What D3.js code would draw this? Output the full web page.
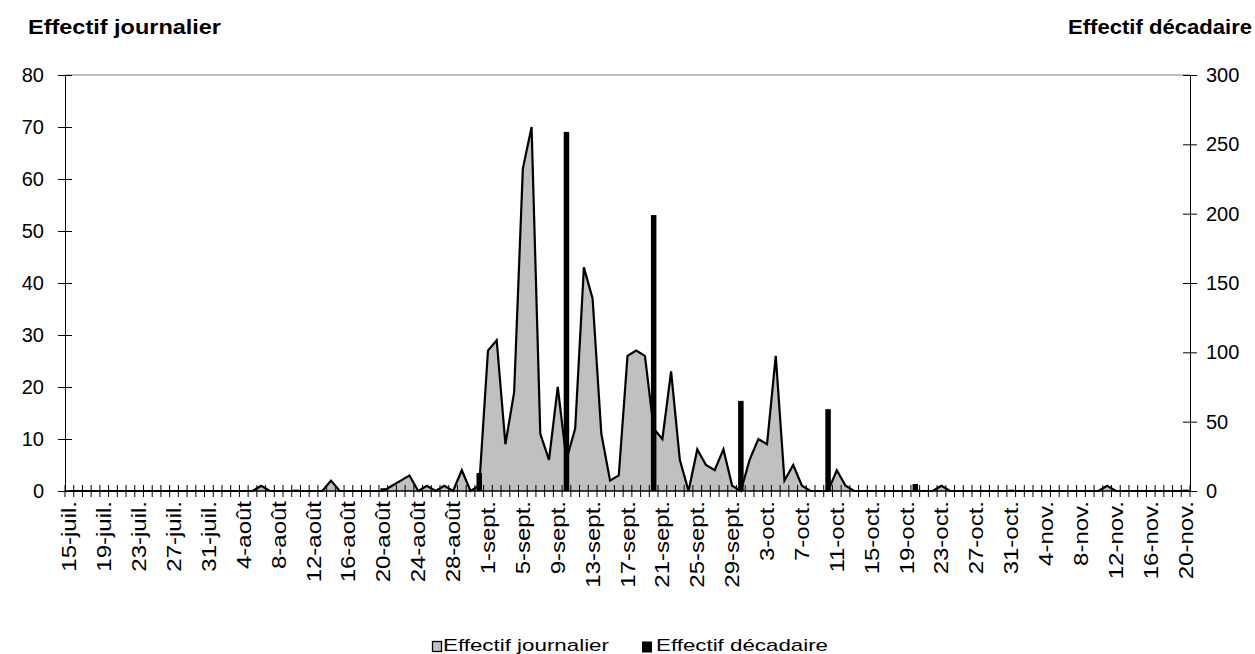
<!DOCTYPE html>
<html>
<head>
<meta charset="utf-8">
<script src="https://cdn.jsdelivr.net/npm/d3@7"></script>
<style>
  body { margin: 0; background: #fff; }
  svg text { font-family: "Liberation Sans", Arial, sans-serif; fill: #000; }
</style>
</head>
<body>
<svg id="chart" width="1255" height="654"></svg>
<script>
// mois en abrégé, comme sur l'axe
const monthNames = ['janv.', 'févr.', 'mars', 'avr.', 'mai', 'juin', 'juil.', 'août', 'sept.', 'oct.', 'nov.', 'déc.'];
// période : du 15 juillet au 20 novembre
const startDay = new Date(2000, 6, 15);
const endDay = new Date(2000, 10, 21);

// effectif journalier, mois par mois
const dailyJuly = [0,0,0,0,0,0,0,0,0,0,0,0,0,0,0,0,0]; // 15 -> 31
const dailyAugust = [0,0,0,0,0,1,0,0,0,0, 0,0,0,2,0,0,0,0,0,0, 1,2,3,0,1,0,1,0,4,0,1];
const dailySeptember = [27,29,9,19,62,70,11,6,20,6, 12,43,37,11,2,3,26,27,26,12, 10,23,6,0,8,5,4,8,1,0];
const dailyOctober = [6,10,9,26,2,5,1,0,0,0, 4,1,0,0,0,0,0,0,0,0, 0,0,1,0,0,0,0,0,0,0,0];
const dailyNovember = [0,0,0,0,0,0,0,0,0,0, 1,0,0,0,0,0,0,0,0,0]; // 1 -> 20

// effectif décadaire (posé sur le dernier jour de la décade)
const decadeLabels = ['20-juil.', '31-juil.', '10-août', '20-août', '31-août', '10-sept.', '20-sept.', '30-sept.', '10-oct.', '20-oct.', '31-oct.', '10-nov.', '20-nov.'];
const decadeValues = [0, 0, 1, 2, 13, 259, 199, 65, 59, 5, 1, 0, 1];

const leftTicks = [0, 10, 20, 30, 40, 50, 60, 70, 80];
const rightTicks = [0, 50, 100, 150, 200, 250, 300];

let fmtDay = d => d.getDate() + '-' + monthNames[d.getMonth()];
let days = d3.timeDay.range(startDay, endDay).map(fmtDay);
let daily = [].concat(dailyJuly, dailyAugust, dailySeptember, dailyOctober, dailyNovember);
let dailyData = days.map((d, i) => ({ day: d, value: daily[i] }));
let decadeData = decadeLabels.map((d, i) => ({ day: d, value: decadeValues[i] }));

let plotLeft = 65, plotRight = 1190, plotTop = 75, plotBottom = 491;
let svg = d3.select('#chart');

let x = d3.scaleBand().domain(days).range([plotLeft, plotRight]).padding(0);
let y = d3.scaleLinear().domain([0, 80]).range([plotBottom, plotTop]);
let y2 = d3.scaleLinear().domain([0, 300]).range([plotBottom, plotTop]);
let cx = d => x(d) + x.bandwidth() / 2;

// bord haut de la zone de tracé
svg.append('line')
    .attr('x1', plotLeft).attr('x2', plotRight)
    .attr('y1', plotTop).attr('y2', plotTop)
    .attr('stroke', '#808080').attr('stroke-width', 1);

// aire journalière
let area = d3.area()
    .x(d => cx(d.day))
    .y0(y(0))
    .y1(d => y(d.value));
let line = d3.line()
    .x(d => cx(d.day))
    .y(d => y(d.value));
svg.append('path')
    .attr('d', area(dailyData))
    .attr('fill', '#c0c0c0');
svg.append('path')
    .attr('d', line(dailyData))
    .attr('fill', 'none')
    .attr('stroke', '#000')
    .attr('stroke-width', 2.2)
    .attr('stroke-linejoin', 'miter');

// barres décadaires
let barW = 5.5;
svg.selectAll('.decade')
    .data(decadeData)
    .enter().append('rect')
    .attr('class', 'decade')
    .attr('x', d => cx(d.day) - barW / 2)
    .attr('width', barW)
    .attr('y', d => y2(d.value))
    .attr('height', d => y2(0) - y2(d.value))
    .attr('fill', '#000');

// axe gauche
let gLeft = svg.append('g')
    .attr('transform', `translate(${plotLeft},0)`)
    .call(d3.axisLeft(y).tickValues(leftTicks).tickSize(7).tickPadding(14));
gLeft.selectAll('.tick line').attr('x1', 7).attr('stroke', '#000');
gLeft.select('.domain').attr('stroke', '#000');
gLeft.selectAll('.tick text').attr('font-size', 20).style('font-family', '"Liberation Sans", Arial, sans-serif');

// axe droit
let gRight = svg.append('g')
    .attr('transform', `translate(${plotRight},0)`)
    .call(d3.axisRight(y2).tickValues(rightTicks).tickSize(7).tickPadding(9));
gRight.selectAll('.tick line').attr('x1', -7).attr('stroke', '#000');
gRight.select('.domain').attr('stroke', '#000');
gRight.selectAll('.tick text').attr('font-size', 20).style('font-family', '"Liberation Sans", Arial, sans-serif');

// axe des dates : graduations entre les jours
svg.append('line')
    .attr('x1', plotLeft).attr('x2', plotRight)
    .attr('y1', plotBottom).attr('y2', plotBottom)
    .attr('stroke', '#000').attr('stroke-width', 1.6);
let bounds = days.map(d => x(d)).concat([plotRight]);
svg.selectAll('.xtick')
    .data(bounds)
    .enter().append('line')
    .attr('class', 'xtick')
    .attr('x1', d => d).attr('x2', d => d)
    .attr('y1', plotBottom - 6).attr('y2', plotBottom + 6)
    .attr('stroke', '#000').attr('stroke-width', 1);

// une étiquette tous les 4 jours
svg.selectAll('.xlabel')
    .data(days.filter((d, i) => i % 4 === 0))
    .enter().append('text')
    .attr('class', 'xlabel')
    .attr('transform', d => `translate(${cx(d)},${plotBottom + 10}) rotate(-90) scale(1.2,1)`)
    .attr('text-anchor', 'end')
    .attr('dy', '0.35em')
    .attr('font-size', 20)
    .text(d => d);

// titres des axes
svg.append('text')
    .attr('x', 28).attr('y', 34)
    .attr('font-size', 20).attr('font-weight', 'bold')
    .attr('textLength', 193).attr('lengthAdjust', 'spacingAndGlyphs')
    .text('Effectif journalier');
svg.append('text')
    .attr('x', 1252 - 184).attr('y', 34)
    .attr('font-size', 20).attr('font-weight', 'bold')
    .attr('textLength', 184).attr('lengthAdjust', 'spacingAndGlyphs')
    .text('Effectif décadaire');

// légende
let legend = svg.append('g');
legend.append('rect')
    .attr('x', 432.5).attr('y', 641.5).attr('width', 9).attr('height', 10)
    .attr('fill', '#c0c0c0').attr('stroke', '#000').attr('stroke-width', 1.3);
legend.append('text')
    .attr('x', 443).attr('y', 651).attr('font-size', 17)
    .attr('textLength', 166).attr('lengthAdjust', 'spacingAndGlyphs')
    .text('Effectif journalier');
legend.append('rect')
    .attr('x', 642).attr('y', 641.5).attr('width', 10).attr('height', 11)
    .attr('fill', '#000');
legend.append('text')
    .attr('x', 656).attr('y', 651).attr('font-size', 17)
    .attr('textLength', 172).attr('lengthAdjust', 'spacingAndGlyphs')
    .text('Effectif décadaire');
</script>
</body>
</html>
